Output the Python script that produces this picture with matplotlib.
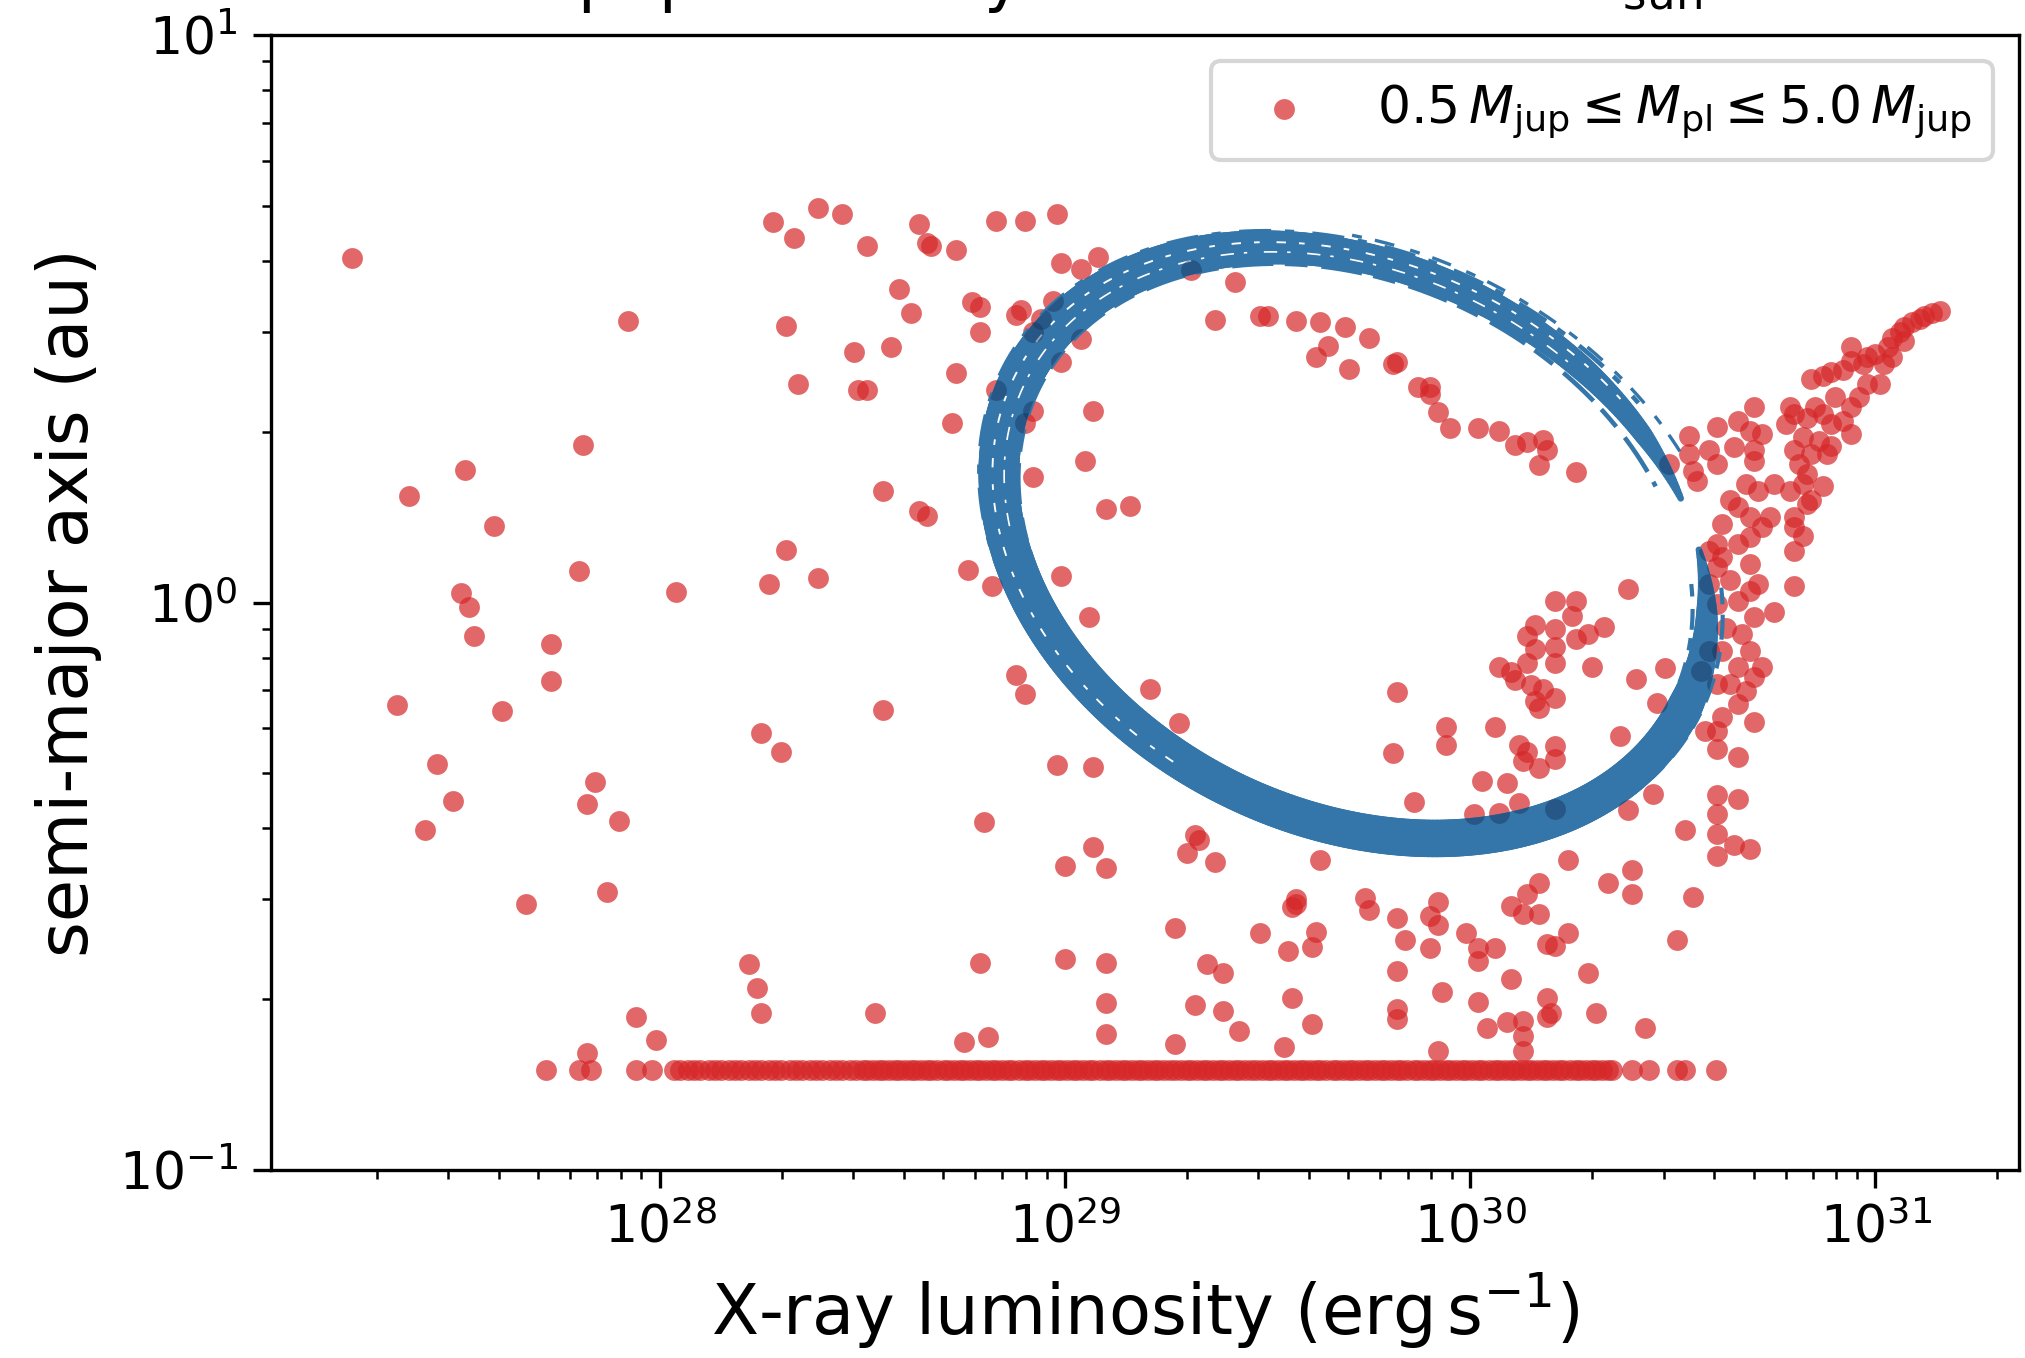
import numpy as np
import matplotlib
matplotlib.use('Agg')
import matplotlib.pyplot as plt
from matplotlib.collections import LineCollection
from matplotlib.patches import Polygon
from matplotlib.transforms import IdentityTransform

# planets: log10 of X-ray luminosity (erg/s) and log10 of semi-major axis (au)
log_lx = [
    # far left
    27.24, 27.38, 27.52, 27.59, 27.81, 27.92, 27.51, 27.53, 27.54, 27.80, 27.35, 27.61, 27.73,
    27.73, 27.45, 27.49, 27.42, 27.84, 27.82, 27.90, 27.87, 27.67, 28.04, 27.94, 27.99, 27.82,
    # left of the ring
    28.28, 28.33, 28.39, 28.45, 28.51, 28.48, 28.49, 28.51, 28.57, 28.59, 28.62, 28.64, 28.66,
    28.67, 28.73, 28.83, 28.90, 28.98, 28.31, 28.34, 28.31, 28.27, 28.39, 28.55, 28.64, 28.66,
    28.55, 28.25, 28.30, 28.22, 28.24, 28.25, 28.53, 28.79, 28.75, 28.81,
    # around and inside the ring
    28.99, 29.04, 29.08, 29.31, 29.42, 28.77, 28.79, 28.79, 28.88, 28.89, 28.94, 28.92, 29.04,
    28.97, 28.73, 28.99, 28.83, 28.72, 28.92, 28.90, 29.07, 29.05, 28.92, 29.10, 29.16, 28.76,
    28.82, 28.99, 29.06, 28.88, 28.90, 29.21, 29.28, 28.98, 29.07, 28.80, 29.07, 29.10, 29.00,
    29.32, 29.33, 29.30, 29.37, 29.63, 29.37, 29.48, 29.50, 29.57, 29.63, 29.65, 29.62, 29.69,
    29.70, 29.75, 29.81, 29.82, 29.87, 29.90, 29.90, 29.92, 29.95, 30.02, 30.07, 30.11, 30.14,
    30.18, 30.19, 30.17, 30.26, 29.82, 29.81, 29.86, 29.94, 29.94, 30.06, 30.21, 30.26, 30.25,
    30.16, 30.14, 30.21, 30.29, 30.33, 30.26, 30.16, 30.21, 30.21, 30.14, 30.07, 30.11, 30.10,
    30.15, 30.18, 30.21, 30.16, 30.17, 30.30, 30.41, 30.39, 30.12, 30.14, 30.13, 30.21, 30.21,
    30.17, 30.03, 30.09, 30.12, 30.01, 30.07, 30.21, 30.37, 30.46, 30.48, 30.45, 30.39, 29.57,
    # below the ring
    30.61, 30.66, 30.61, 30.61, 30.65, 30.61, 30.55, 30.51, 30.66, 30.61, 30.53, 30.40, 30.40,
    30.34, 30.24, 30.17, 30.14, 30.10, 30.13, 30.17, 30.24, 30.19, 30.21, 29.74, 29.75, 29.82,
    29.84, 29.90, 29.90, 29.92, 29.92, 29.99, 30.02, 30.06, 30.02, 29.82, 29.93, 30.02, 30.10,
    30.29, 30.31, 30.43, 29.82, 29.82, 29.92, 30.04, 30.09, 30.13, 30.13, 30.13, 30.19, 30.20,
    30.19, 30.69,
    29.27, 29.35, 29.39, 29.48, 29.56, 29.57, 29.55, 29.61, 29.62, 29.56, 29.61, 29.27, 29.32,
    29.39, 29.43, 29.54, 29.00, 29.10, 29.10, 29.10,
    # right-hand branch
    31.16, 31.14, 31.12, 31.11, 31.09, 31.07, 31.06, 31.04, 31.07, 31.03, 31.04, 31.02, 31.00,
    30.98, 30.97, 30.94, 30.94, 30.92, 30.89, 30.87, 30.84, 30.98, 30.96, 31.01, 30.90, 30.94,
    30.92, 30.94, 30.89, 30.87, 30.85, 30.83, 30.80, 30.79, 30.78, 30.82, 30.86, 30.89, 30.88,
    30.84, 30.80, 30.81, 30.83, 30.87, 30.82, 30.79, 30.75, 30.84, 30.80, 30.83, 30.80, 30.82,
    30.80, 30.80, 30.75, 30.70, 30.66, 30.69, 30.72, 30.70, 30.70, 30.61, 30.59, 30.54, 30.49,
    30.54, 30.55, 30.56, 30.61, 30.65, 30.68, 30.64, 30.62, 30.66, 30.69, 30.72, 30.74, 30.71,
    30.69, 30.66, 30.62, 30.61, 30.64, 30.61, 30.69, 30.71, 30.69, 30.66, 30.61, 30.67, 30.70,
    30.63, 30.69, 30.70, 30.72, 30.64, 30.62, 30.66, 30.68, 30.62, 30.66, 30.70, 30.58, 30.61,
    30.59, 30.57, 30.61, 30.59, 30.59,
]
log_a = [
    0.607, 0.187, 0.234, 0.134, 0.278, 0.496, 0.016, -0.007, -0.059, 0.055, -0.180, -0.191, -0.073,
    -0.139, -0.284, -0.350, -0.400, -0.316, -0.355, -0.385, -0.510, -0.532, 0.018, -0.730, -0.771, -0.794,
    0.671, 0.642, 0.696, 0.685, 0.628, 0.441, 0.375, 0.375, 0.451, 0.553, 0.510, 0.667, 0.633,
    0.628, 0.621, 0.673, 0.673, 0.685, 0.487, 0.385, 0.093, 0.032, 0.043, 0.196, 0.162, 0.152,
    -0.189, -0.230, -0.264, -0.637, -0.680, -0.724, -0.724, -0.635, -0.774, -0.765,
    0.598, 0.588, 0.609, 0.586, 0.564, 0.529, 0.521, 0.476, 0.507, 0.515, 0.500, 0.476, 0.464,
    0.531, 0.404, 0.423, 0.374, 0.317, 0.338, 0.317, 0.338, 0.250, 0.222, 0.164, 0.170, 0.058,
    0.030, 0.046, -0.025, -0.127, -0.161, -0.153, -0.212, -0.287, -0.289, -0.387, -0.430, -0.468, -0.464,
    -0.409, -0.418, -0.442, -0.458, -0.453, 0.497, 0.505, 0.505, 0.496, 0.494, 0.452, 0.433, 0.485,
    0.411, 0.466, 0.421, 0.423, 0.379, 0.379, 0.368, 0.336, 0.307, 0.307, 0.302, 0.277, 0.283,
    0.286, 0.268, 0.242, 0.230, -0.157, -0.265, -0.351, -0.220, -0.251, -0.220, 0.002, 0.003, -0.023,
    -0.039, -0.059, -0.047, -0.055, -0.043, -0.064, -0.082, -0.078, -0.106, -0.106, -0.114, -0.137, -0.123,
    -0.145, -0.153, -0.169, -0.173, -0.185, -0.114, -0.134, 0.024, -0.251, -0.263, -0.279, -0.253, -0.275,
    -0.291, -0.314, -0.318, -0.354, -0.373, -0.371, -0.363, -0.236, -0.177, -0.116, -0.338, -0.366, -0.523,
    -0.339, -0.346, -0.373, -0.407, -0.427, -0.447, -0.518, -0.595, -0.272, -0.258, -0.400, -0.471, -0.514,
    -0.494, -0.454, -0.494, -0.514, -0.535, -0.548, -0.548, -0.582, -0.602, -0.605, -0.521, -0.541, -0.555,
    -0.595, -0.609, -0.552, -0.568, -0.528, -0.582, -0.609, -0.609, -0.632, -0.649, -0.686, -0.703, -0.663,
    -0.653, -0.723, -0.750, -0.717, -0.734, -0.791, -0.750, -0.740, -0.737, -0.764, -0.791, -0.696, -0.723,
    -0.730, -0.435,
    -0.573, -0.637, -0.653, -0.582, -0.537, -0.532, -0.614, -0.607, -0.580, -0.696, -0.742, -0.778, -0.710,
    -0.719, -0.755, -0.783, -0.628, -0.635, -0.706, -0.760,
    0.514, 0.511, 0.505, 0.500, 0.494, 0.485, 0.476, 0.467, 0.461, 0.450, 0.432, 0.420, 0.438,
    0.432, 0.420, 0.450, 0.426, 0.409, 0.406, 0.400, 0.394, 0.385, 0.362, 0.385, 0.362, 0.344,
    0.320, 0.297, 0.315, 0.332, 0.344, 0.326, 0.332, 0.344, 0.315, 0.291, 0.285, 0.276, 0.262,
    0.262, 0.268, 0.244, 0.227, 0.206, 0.209, 0.197, 0.209, 0.180, 0.150, 0.174, 0.133, 0.118,
    0.091, 0.030, -0.017, 0.344, 0.320, 0.303, 0.297, 0.268, 0.250, 0.309, 0.268, 0.294, 0.244,
    0.262, 0.232, 0.215, 0.244, 0.274, 0.209, 0.180, 0.138, 0.168, 0.150, 0.133, 0.150, 0.197,
    0.115, 0.103, 0.080, 0.103, 0.039, 0.062, 0.068, 0.033, 0.021, 0.003, -0.003, -0.055, -0.026,
    -0.044, -0.085, -0.132, -0.114, -0.143, -0.085, -0.114, -0.155, -0.202, -0.179, -0.211, -0.226, -0.226,
    -0.085, -0.120, -0.143, 0.091, 0.033,
]

# planets piled up at the inner edge of the grid (a = 0.15 au)
row_a = 0.15
row_log_lx = [
    27.72, 27.80, 27.83, 27.94, 27.98,
    28.035, 28.05, 28.07, 28.085, 28.10, 28.12, 28.135, 28.15, 28.17, 28.185, 28.20, 28.22,
    28.235, 28.25, 28.27, 28.285, 28.30, 28.32, 28.335, 28.35, 28.37, 28.385, 28.40, 28.42,
    28.435, 28.45, 28.47, 28.484, 28.50, 28.51, 28.525, 28.54, 28.55, 28.565,
    28.58, 28.59, 28.605, 28.62, 28.63, 28.645, 28.66, 28.67, 28.685, 28.70, 28.71, 28.725,
    28.74, 28.75, 28.765, 28.78, 28.79, 28.805, 28.82, 28.83, 28.845, 28.86, 28.87, 28.885,
    28.90, 28.91, 28.925, 28.94, 28.95, 28.965, 28.98, 28.99, 29.005, 29.02, 29.03, 29.045,
    29.06, 29.07, 29.085, 29.10, 29.11, 29.125, 29.14, 29.15, 29.165, 29.18, 29.19, 29.205,
    29.22, 29.23, 29.245, 29.26, 29.27, 29.285, 29.30, 29.31, 29.325, 29.34, 29.35, 29.365,
    29.38, 29.39, 29.405, 29.42, 29.43, 29.445, 29.46, 29.47, 29.485, 29.50, 29.51, 29.525,
    29.54, 29.55, 29.565, 29.58, 29.59, 29.605, 29.62, 29.63, 29.645, 29.66, 29.67, 29.685,
    29.70, 29.71, 29.725, 29.74, 29.75, 29.765, 29.78, 29.79, 29.805, 29.82, 29.83, 29.845,
    29.86, 29.87, 29.885, 29.90, 29.91, 29.925, 29.94, 29.95, 29.965, 29.98, 29.99, 30.005,
    30.02, 30.03, 30.045, 30.06, 30.07, 30.085, 30.10, 30.11, 30.125, 30.14, 30.15, 30.165,
    30.18, 30.19, 30.205, 30.22, 30.23, 30.245, 30.26, 30.27, 30.285, 30.30, 30.31, 30.325,
    30.34, 30.35, 30.40, 30.44, 30.51, 30.53, 30.607,
]

# hand-drawn ring (centre in log10 units, semi-axes in decades of Lx, tilt in degrees)
ring_centre = (29.71, 0.105)
ring_axes = (0.914, 0.678)
ring_tilt = 26.0
ring_t = [-32, -20, 0, 45, 90, 135, 180, 220, 250, 270, 290, 305, 318]
ring_w = [1.5, 5.0, 8.5, 9.0, 9.0, 9.5, 10.0, 9.0, 7.5, 7.0, 6.0, 4.5, 1.5]
ring_colour = '#3476a9'

xlim_log = (27.04, 31.354)

fig = plt.figure(figsize=(6.75, 4.5267), dpi=300)
ax = fig.add_axes([0.1338, 0.1384, 0.8632, 0.8358])

px = 10 ** np.array(log_lx)
py = 10 ** np.array(log_a)
ax.scatter(px, py, s=25, color='tab:red', alpha=0.7, linewidths=0,
           label=r'$0.5\,M_{\rm jup} \leq M_{\rm pl} \leq 5.0\,M_{\rm jup}$', zorder=2)
ax.scatter(10 ** np.array(row_log_lx), np.full(len(row_log_lx), row_a), s=25, color='tab:red',
           alpha=0.7, linewidths=0, zorder=2)

ax.set_xscale('log')
ax.set_yscale('log')
ax.set_xlim(10 ** xlim_log[0], 10 ** xlim_log[1])
ax.set_ylim(0.1, 10)

# ring drawn in a frame where one decade of a has the same on-screen length as on Lx
pos = ax.get_position()
w_in = pos.width * fig.get_figwidth()
h_in = pos.height * fig.get_figheight()
aspect = (h_in / 2.0) / (w_in / (xlim_log[1] - xlim_log[0]))


def ring_xy(t_deg, scale=1.0):
    t = np.radians(t_deg)
    th = np.radians(ring_tilt)
    u = ring_axes[0] * scale * np.cos(t)
    v = ring_axes[1] * scale * np.sin(t)
    dx = u * np.cos(th) - v * np.sin(th)
    dy = u * np.sin(th) + v * np.cos(th)
    return 10 ** (ring_centre[0] + dx), 10 ** (ring_centre[1] - dy / aspect)


tt = np.linspace(ring_t[0], ring_t[-1], 500)
rx, ry = ring_xy(tt)
pts = np.column_stack([rx, ry])
segs = np.stack([pts[:-1], pts[1:]], axis=1)
widths = np.interp(0.5 * (tt[:-1] + tt[1:]), ring_t, ring_w)
ax.add_collection(LineCollection(segs, linewidths=widths, colors=ring_colour,
                                 capstyle='round', zorder=3))

# frayed edges of the brush stroke
for sc, t0, t1, lw, col, dash in [
        (1.055, 60, 300, 1.1, ring_colour, (0, (7, 3, 2, 4))),
        (0.945, 85, 315, 1.1, ring_colour, (0, (5, 3, 9, 2.5))),
        (1.045, -25, 45, 1.0, ring_colour, (0, (4, 2.5, 6, 3))),
        (0.96, -25, 40, 1.0, ring_colour, (0, (3, 3, 5, 2))),
        (1.07, 250, 312, 0.8, ring_colour, (0, (3, 4, 6, 5))),
        (1.018, 100, 300, 0.45, 'white', (0, (5, 7, 3, 9))),
        (0.985, 150, 290, 0.4, 'white', (0, (8, 6, 2, 10)))]:
    sx, sy = ring_xy(np.linspace(t0, t1, 300), sc)
    ax.plot(sx, sy, color=col, lw=lw, linestyle=dash, zorder=3)

# planets seen through the ring look darker
disp = ax.transData.transform(pts)
tan = np.gradient(disp, axis=0)
tan /= np.hypot(tan[:, 0], tan[:, 1])[:, None]
nrm = np.column_stack([-tan[:, 1], tan[:, 0]])
hw = np.interp(tt, ring_t, ring_w) * fig.dpi / 72.0 / 2.0
band = np.vstack([disp + nrm * hw[:, None], (disp - nrm * hw[:, None])[::-1]])
band_patch = Polygon(band, closed=True, transform=IdentityTransform())
dark = ax.scatter(px, py, s=25, color='#17335c', alpha=0.45, linewidths=0, zorder=4)
dark.set_clip_path(band_patch)

ax.set_xlabel(r'X-ray luminosity ($\mathrm{erg\,s^{-1}}$)', fontsize=16.5)
ax.set_ylabel('semi-major axis (au)', fontsize=16.5)
ax.set_title(r'The population by stellar mass 1.0$\,M_{\rm sun}$ star', fontsize=15.5, pad=8.6)
ax.tick_params(which='major', length=4.4, width=0.8, labelsize=12.5)
ax.tick_params(which='minor', length=2.2, width=0.6)
ax.legend(loc='upper right', fontsize=12.5)

fig.savefig('out.png', dpi=300)
